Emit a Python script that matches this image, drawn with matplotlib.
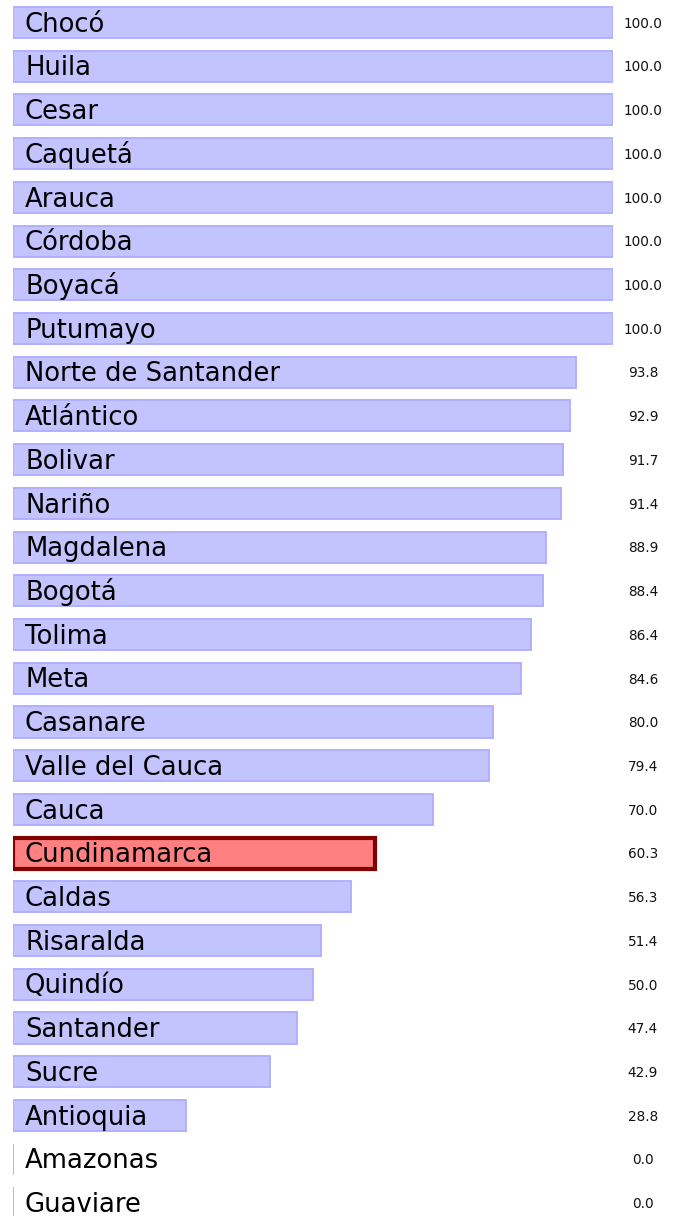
import matplotlib.pyplot as plt

# Data
departments = ['Chocó', 'Huila', 'Cesar', 'Caquetá', 'Arauca', 'Córdoba', 'Boyacá', 'Putumayo',
               'Norte de Santander', 'Atlántico', 'Bolivar', 'Nariño', 'Magdalena', 'Bogotá',
               'Tolima', 'Meta', 'Casanare', 'Valle del Cauca', 'Cauca', 'Cundinamarca',
               'Caldas', 'Risaralda', 'Quindío', 'Santander', 'Sucre', 'Antioquia',
               'Amazonas', 'Guaviare']
values = [100.0, 100.0, 100.0, 100.0, 100.0, 100.0, 100.0, 100.0,
          93.8, 92.9, 91.7, 91.4, 88.9, 88.4, 86.4, 84.6, 80.0, 79.4, 70.0, 60.3,
          56.3, 51.4, 50.0, 47.4, 42.9, 28.8, 0.0, 0.0]
highlight = 'Cundinamarca'

plt.rcParams['font.family'] = ['DejaVu Sans']

fig = plt.figure(figsize=(6.78, 12.16), dpi=100)
ax = fig.add_axes([13 / 678, 0, 600 / 678, 1])

pos = list(range(len(departments)))
fills = ['#ff8080' if d == highlight else '#c3c3ff' for d in departments]
edges = ['#800000' if d == highlight else '#b0b0ff' for d in departments]
widths = [3.0 if d == highlight else 1.4 for d in departments]
ax.barh(pos, values, height=0.71, color=fills, edgecolor=edges, linewidth=widths)

for i, (d, v) in enumerate(zip(departments, values)):
    ax.text(2, i + 0.21, d, va='baseline', ha='left', fontsize=18.6, color='black')
    ax.text(105, i + 0.12, f'{v:.1f}', va='baseline', ha='center', fontsize=9.8,
            color='#111111', clip_on=False)

ax.set_xlim(0, 100)
ax.set_ylim(27.30, -0.515)
ax.axis('off')

plt.savefig('out.png', dpi=100)
